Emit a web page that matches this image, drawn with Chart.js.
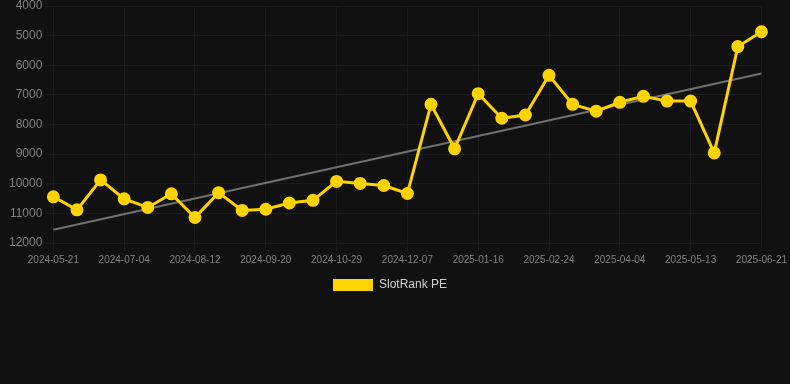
<!DOCTYPE html>
<html>
<head>
<meta charset="utf-8">
<script src="https://cdn.jsdelivr.net/npm/chart.js@4/dist/chart.umd.min.js"></script>
<style>
  html, body { margin: 0; padding: 0; background: #111111; }
  #wrap { position: relative; width: 790px; height: 301px; }
</style>
</head>
<body>
<div id="wrap"><canvas id="chart"></canvas></div>
<script>
const dates = [
  '2024-05-21', '2024-06-05', '2024-06-19', '2024-07-04', '2024-07-17', '2024-07-30',
  '2024-08-12', '2024-08-25', '2024-09-07', '2024-09-20', '2024-10-03', '2024-10-16',
  '2024-10-29', '2024-11-11', '2024-11-24', '2024-12-07', '2024-12-20', '2025-01-03',
  '2025-01-16', '2025-01-29', '2025-02-11', '2025-02-24', '2025-03-09', '2025-03-22',
  '2025-04-04', '2025-04-17', '2025-04-30', '2025-05-13', '2025-05-26', '2025-06-08',
  '2025-06-21'
];

const rankPE = [
  10440, 10880, 9870, 10510, 10800, 10340, 11140, 10300, 10900, 10860,
  10650, 10560, 9920, 9990, 10060, 10330, 7320, 8820, 6960, 7790,
  7680, 6340, 7320, 7550, 7250, 7050, 7210, 7210, 8960, 5370,
  4870
];

// trend line end points
const trendStart = 11550;
const trendEnd = 6280;

const fontFamily = 'Arial, "Liberation Sans", Helvetica, sans-serif';
const gridColor = '#1c1c1c';

const ctx = document.getElementById('chart').getContext('2d');
new Chart(ctx, {
  type: 'line',
  data: {
    labels: dates,
    datasets: [
      {
        label: 'SlotRank PE',
        data: rankPE,
        borderColor: '#ffd300',
        backgroundColor: '#ffd300',
        borderWidth: 3,
        pointRadius: 5,
        pointHoverRadius: 6,
        pointBackgroundColor: '#ffd300',
        pointBorderColor: '#ffd300',
        tension: 0
      },
      {
        label: 'Trend',
        data: [
          { x: dates[0], y: trendStart },
          { x: dates[dates.length - 1], y: trendEnd }
        ],
        borderColor: '#707070',
        backgroundColor: '#707070',
        borderWidth: 2,
        pointRadius: 0,
        tension: 0
      }
    ]
  },
  options: {
    responsive: true,
    maintainAspectRatio: false,
    animation: false,
    layout: { autoPadding: false, padding: { left: 6, right: 16, top: 0, bottom: 0 } },
    plugins: {
      legend: {
        position: 'bottom',
        labels: {
          color: '#d0d0d0',
          font: { family: fontFamily, size: 12 },
          boxWidth: 40,
          boxHeight: 12,
          filter: item => item.text !== 'Trend',
          generateLabels: chart => Chart.defaults.plugins.legend.labels.generateLabels(chart)
            .map(item => ({ ...item, lineWidth: 0 }))
        }
      },
      tooltip: { enabled: false }
    },
    scales: {
      x: {
        grid: { color: gridColor },
        border: { display: false },
        ticks: {
          color: '#808080',
          font: { family: fontFamily, size: 10 },
          maxRotation: 0,
          autoSkip: true,
          maxTicksLimit: 11
        }
      },
      y: {
        reverse: true,
        min: 4000,
        max: 12000,
        grid: { color: gridColor },
        border: { display: false },
        ticks: {
          stepSize: 1000,
          color: '#808080',
          font: { family: fontFamily, size: 12, lineHeight: 0.5 },
          callback: v => String(v)
        }
      }
    }
  }
});
</script>
</body>
</html>
